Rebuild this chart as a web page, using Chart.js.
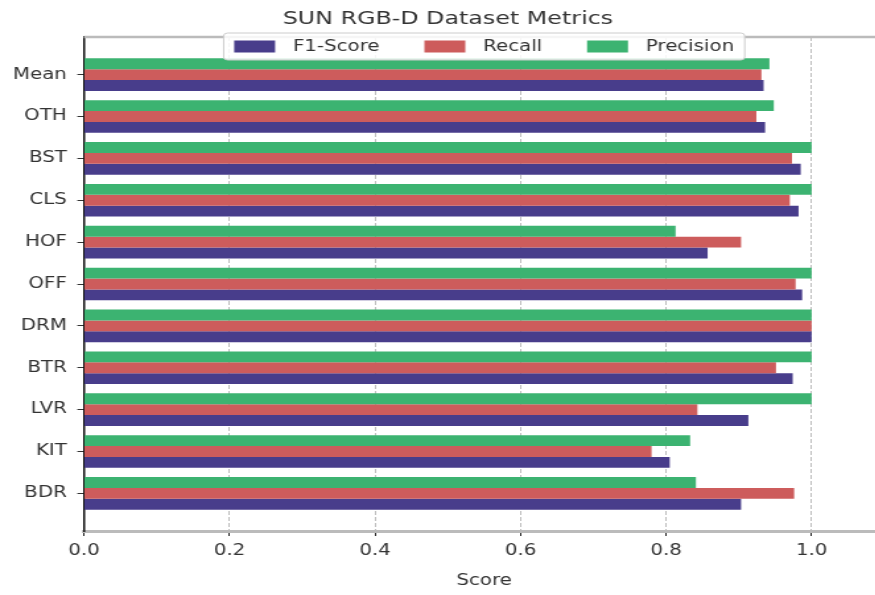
<!DOCTYPE html>
<html lang="en">
<head>
    <meta charset="UTF-8">
    <title>SUN RGB-D Dataset Metrics</title>
    <script src="https://cdn.jsdelivr.net/npm/chart.js@4.4.1/dist/chart.umd.min.js"></script>
    <style>
        html, body { margin: 0; padding: 0; background: #fff; overflow: hidden; }
        /* the reference picture is stretched sideways, so the chart is too */
        #wrap { width: 670px; height: 595px; transform: scaleX(1.32); transform-origin: 0 0; }
    </style>
</head>
<body>
    <div id="wrap">
        <canvas id="metricsChart" width="670" height="595"></canvas>
    </div>

    <script>
        // Data, top row first
        const categories = ['Mean', 'OTH', 'BST', 'CLS', 'HOF', 'OFF', 'DRM', 'BTR', 'LVR', 'KIT', 'BDR'];
        const f1Score   = [0.934, 0.936, 0.985, 0.982, 0.857, 0.987, 1.000, 0.974, 0.913, 0.805, 0.903];
        const recall    = [0.931, 0.924, 0.973, 0.970, 0.903, 0.978, 1.000, 0.951, 0.843, 0.780, 0.976];
        const precision = [0.942, 0.948, 1.000, 1.000, 0.813, 1.000, 1.000, 1.000, 1.000, 0.833, 0.841];
        const xTicks = [0.0, 0.2, 0.4, 0.6, 0.8, 1.0];

        const colors = { f1: '#483d8b', recall: '#cd5c5c', precision: '#3cb371' };
        const textColor = '#333333';

        Chart.defaults.font.family = "'DejaVu Sans', sans-serif";
        Chart.defaults.color = textColor;

        const toPoints = (vals) => vals.map((v, i) => ({ x: v, y: i }));

        // Legend drawn inside the plot, straddling the top frame line
        const frameAndLegend = {
            id: 'frameAndLegend',
            afterDraw(chart) {
                const ctx = chart.ctx;
                const area = chart.chartArea;

                // top frame line
                ctx.save();
                ctx.strokeStyle = '#bbbbbb';
                ctx.lineWidth = 2.5;
                ctx.beginPath();
                ctx.moveTo(area.left, area.top);
                ctx.lineTo(area.right, area.top);
                ctx.stroke();

                // legend (F1-Score, Recall, Precision)
                const items = chart.data.datasets.slice().reverse();
                ctx.font = "15px 'DejaVu Sans'";
                const pad = 8, swatch = 31, gap = 13.5, colGap = 34;
                let width = pad * 2;
                items.forEach((d, i) => {
                    width += swatch + gap + ctx.measureText(d.label).width;
                    if (i < items.length - 1) width += colGap;
                });
                const boxTop = 33, boxH = 27;
                const left = (area.left + area.right) / 2 - width / 2;
                ctx.fillStyle = 'rgba(255,255,255,0.85)';
                ctx.strokeStyle = '#cccccc';
                ctx.lineWidth = 1;
                ctx.beginPath();
                ctx.roundRect(left, boxTop, width, boxH, 3);
                ctx.fill();
                ctx.stroke();

                let x = left + pad;
                const cy = boxTop + boxH / 2;
                ctx.textBaseline = 'middle';
                items.forEach((d) => {
                    ctx.fillStyle = d.backgroundColor;
                    ctx.fillRect(x, cy - 6, swatch, 12);
                    x += swatch + gap;
                    ctx.fillStyle = textColor;
                    ctx.fillText(d.label, x, cy + 1);
                    x += ctx.measureText(d.label).width + colGap;
                });
                ctx.restore();
            }
        };

        const ctx = document.getElementById('metricsChart').getContext('2d');
        const metricsChart = new Chart(ctx, {
            type: 'bar',
            data: {
                datasets: [
                    { label: 'Precision', data: toPoints(precision), backgroundColor: colors.precision },
                    { label: 'Recall', data: toPoints(recall), backgroundColor: colors.recall },
                    { label: 'F1-Score', data: toPoints(f1Score), backgroundColor: colors.f1 }
                ]
            },
            options: {
                indexAxis: 'y',
                responsive: false,
                animation: false,
                devicePixelRatio: 1,
                barPercentage: 1.0,
                categoryPercentage: 0.78,
                layout: { padding: { left: 8.6, right: 0, top: 0, bottom: 2 } },
                plugins: {
                    legend: { display: false },
                    tooltip: { enabled: false },
                    title: {
                        display: true,
                        text: 'SUN RGB-D Dataset Metrics',
                        color: textColor,
                        font: { size: 18, weight: 'normal' },
                        padding: { top: 9, bottom: 6.4 }
                    }
                },
                scales: {
                    x: {
                        type: 'linear',
                        position: 'bottom',
                        min: 0,
                        max: 1.1,
                        afterBuildTicks: (scale) => {
                            scale.ticks = xTicks.map((v) => ({ value: v }));
                        },
                        ticks: {
                            font: { size: 15 },
                            padding: 6,
                            callback: (v) => v.toFixed(1)
                        },
                        grid: {
                            color: (c) => c.tick && c.tick.value === 0 ? 'rgba(0,0,0,0)' : 'rgba(90,90,90,0.5)',
                            lineWidth: 0.8,
                            tickColor: '#222222',
                            tickLength: 5,
                            tickWidth: 1
                        },
                        border: { color: '#bbbbbb', width: 3, dash: [4, 2] },
                        title: {
                            display: true,
                            text: 'Score',
                            font: { size: 15 },
                            padding: { top: 6, bottom: 3 }
                        }
                    },
                    y: {
                        type: 'linear',
                        reverse: true,
                        offset: false,
                        min: -0.9,
                        max: 10.9,
                        afterBuildTicks: (scale) => {
                            scale.ticks = categories.map((c, i) => ({ value: i }));
                        },
                        afterFit: (scale) => { scale.width = 55; },
                        ticks: {
                            font: { size: 15 },
                            padding: 8,
                            callback: (v) => categories[v]
                        },
                        grid: {
                            offset: false,
                            drawOnChartArea: false,
                            tickColor: '#333333',
                            tickLength: 5,
                            tickWidth: 1
                        },
                        border: { color: '#111111', width: 1.5 }
                    }
                }
            },
            plugins: [frameAndLegend]
        });
    </script>
</body>
</html>
